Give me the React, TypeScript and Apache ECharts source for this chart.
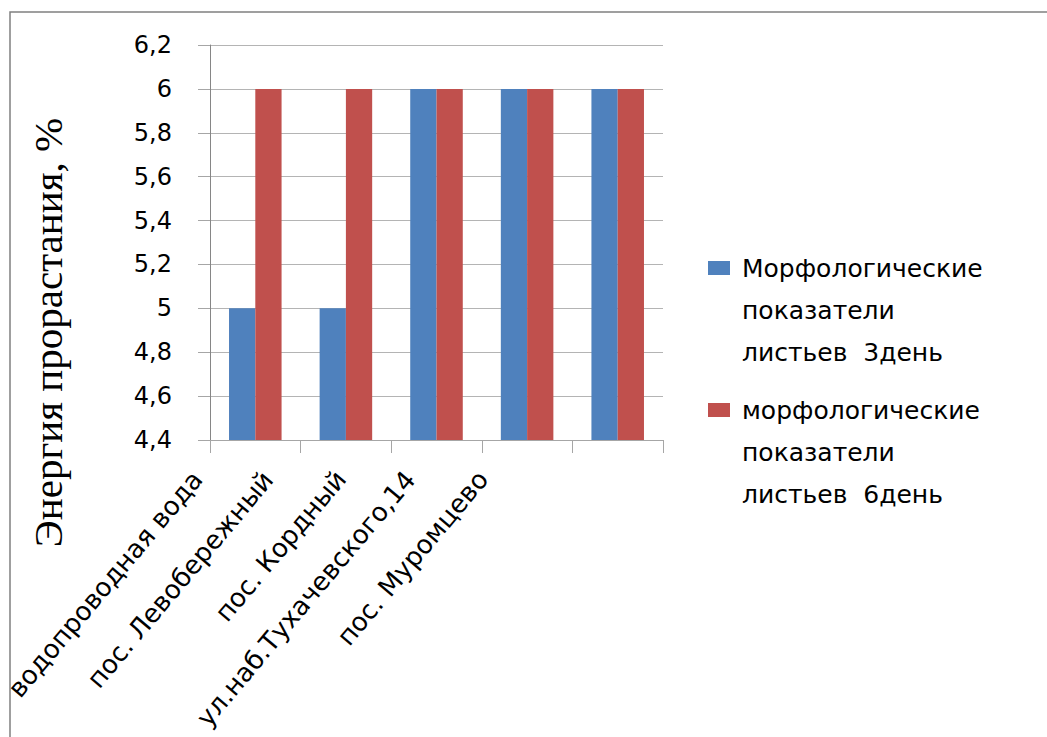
import React, { useEffect, useRef } from "react";
import * as echarts from "echarts";

// Sampling sites along the category axis
const categories = [
  "водопроводная вода",
  "пос. Левобережный",
  "пос. Кордный",
  "ул.наб.Тухачевского,14",
  "пос. Муромцево",
];

// Germination energy values per site
const day3Values = [5, 5, 6, 6, 6];
const day6Values = [6, 6, 6, 6, 6];

const seriesNames = [
  "Морфологические показатели листьев  3день",
  "морфологические показатели листьев  6день",
];

const yTitle = "Энергия прорастания, %";
const yMin = 4.4;
const yMax = 6.2;
const yStep = 0.2;

// Horizontal pull (px) applied to each slanted category label
const labelPull = [48, 68, 86, 107, 125];

const SANS = "'DejaVu Sans', Verdana, sans-serif";
const SERIF = "'Liberation Serif', 'Times New Roman', serif";
const ROTATE = 50;

// Bottom-anchored rotated text: right padding slides it back along the baseline,
// bottom padding lifts it; combined they move the label straight to the left.
function labelPadding(pull: number): number[] {
  const a = (ROTATE * Math.PI) / 180;
  return [0, Math.round(pull * Math.cos(a)), Math.round(pull * Math.sin(a)), 0];
}

export default function App() {
  const ref = useRef<HTMLDivElement>(null);

  useEffect(() => {
    if (!ref.current) return;
    const chart = echarts.init(ref.current, null, { renderer: "svg" });

    const categoryItems = categories.map((c, i) => ({
      value: c,
      textStyle: {
        align: "right",
        verticalAlign: "bottom",
        padding: labelPadding(labelPull[i]),
      },
    }));

    chart.setOption({
      animation: false,
      backgroundColor: "#ffffff",
      graphic: [
        {
          type: "rect",
          shape: { x: 10, y: 12, width: 1100, height: 800 },
          style: { fill: "none", stroke: "#808080", lineWidth: 1.5 },
          silent: true,
        },
      ],
      grid: {
        left: 210,
        top: 45,
        width: 453,
        height: 395,
        containLabel: false,
        outerBoundsMode: "none",
      },
      legend: {
        orient: "vertical",
        left: 703,
        top: 242,
        itemWidth: 22,
        itemHeight: 98,
        itemGap: 16,
        icon: "path://M0,0H22V14H0Z M0,98L22,98",
        formatter: (name: string) => name.replace(" показатели ", "\nпоказатели\n"),
        textStyle: {
          fontFamily: SANS,
          fontSize: 25,
          lineHeight: 42,
          color: "#000",
          padding: [0, 0, 0, 7],
        },
      },
      xAxis: {
        type: "category",
        data: categoryItems,
        axisLine: { lineStyle: { color: "#a6a6a6", width: 1 } },
        axisTick: { show: true, length: 13, lineStyle: { color: "#a6a6a6" } },
        axisLabel: {
          interval: 0,
          rotate: ROTATE,
          margin: 43,
          align: "right",
          verticalAlign: "bottom",
          fontFamily: SANS,
          fontSize: 26,
          color: "#000",
        },
      },
      yAxis: {
        type: "value",
        min: yMin,
        max: yMax,
        interval: yStep,
        name: yTitle,
        nameLocation: "middle",
        nameRotate: 90,
        nameGap: 142,
        nameTextStyle: {
          fontFamily: SERIF,
          fontSize: 41,
          color: "#000",
          padding: [0, 180, 0, 0],
        },
        axisLine: { show: true, lineStyle: { color: "#868686", width: 1 } },
        axisTick: { show: true, length: 12, lineStyle: { color: "#a6a6a6" } },
        splitLine: { show: true, lineStyle: { color: "#b4b4b4", width: 1 } },
        axisLabel: {
          margin: 38,
          fontFamily: SANS,
          fontSize: 24,
          color: "#000",
          formatter: (v: number) => String(Math.round(v * 10) / 10).replace(".", ","),
        },
      },
      series: [
        {
          name: seriesNames[0],
          type: "bar",
          data: day3Values,
          barGap: "0%",
          barCategoryGap: "42%",
          itemStyle: { color: "#4f81bd" },
        },
        {
          name: seriesNames[1],
          type: "bar",
          data: day6Values,
          barGap: "0%",
          barCategoryGap: "42%",
          itemStyle: { color: "#c0504d" },
        },
      ],
    });

    return () => chart.dispose();
  }, []);

  return (
    <div
      ref={ref}
      style={{ position: "fixed", left: 0, top: 0, width: 1047, height: 737, background: "#fff" }}
    />
  );
}
